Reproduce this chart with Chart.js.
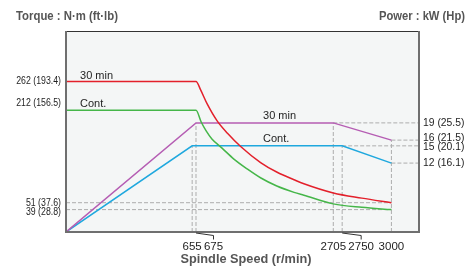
<!DOCTYPE html>
<html>
<head>
<meta charset="utf-8">
<script src="https://cdn.jsdelivr.net/npm/chart.js@4.4.1/dist/chart.umd.min.js"></script>
<style>
  html, body { margin: 0; padding: 0; background: #fff; }
</style>
</head>
<body>
<canvas id="spindleChart" width="474" height="270"></canvas>
<script>
// --- data ---
// speed in r/min, torque in N·m
const speed30T = [0, 675, 745, 840, 990, 1140, 1335, 1630, 1875, 2125, 2270, 2705, 2850, 3000];
const torque30 = [262, 262, 247, 223, 193, 172, 149, 121, 104, 91, 84, 68, 59, 51];
const speedContT = [0, 675, 750, 825, 910, 1060, 1235, 1430, 1635, 1870, 2125, 2270, 2705, 2850, 3000];
const torqueCont = [212, 212, 192, 176, 162, 146, 127, 110, 94, 80, 69, 64, 49, 43, 39];
// power in kW
const speed30P = [0, 675, 2705, 3000];
const power30 = [0, 19, 19, 16];
const speedContP = [0, 655, 2750, 3000];
const powerCont = [0, 15, 15, 12];

const speedTicks = [655, 675, 2705, 2750, 3000];
const torqueTicks = [262, 212, 51, 39];
const torqueTickLabels = ['262 (193.4)', '212 (156.5)', '51 (37.6)', '39 (28.8)'];
const powerTicks = [19, 16, 15, 12];
const powerTickLabels = ['19 (25.5)', '16 (21.5)', '15 (20.1)', '12 (16.1)'];

// the speed axis of the original is drawn with a compressed middle part
const speedBreaks = [[0, 0], [675, 0.3683], [2705, 0.7572], [3140, 1]];

class BrokenScale extends Chart.LinearScale {
  _frac(v) {
    const b = speedBreaks;
    for (let i = 1; i < b.length; i++) {
      if (v <= b[i][0] || i === b.length - 1) {
        const [v0, f0] = b[i - 1], [v1, f1] = b[i];
        return f0 + (v - v0) / (v1 - v0) * (f1 - f0);
      }
    }
  }
  getPixelForValue(v) {
    return this.getPixelForDecimal(this._frac(v));
  }
  getValueForPixel(p) {
    const d = this.getDecimalForPixel(p);
    const b = speedBreaks;
    for (let i = 1; i < b.length; i++) {
      if (d <= b[i][1] || i === b.length - 1) {
        const [v0, f0] = b[i - 1], [v1, f1] = b[i];
        return v0 + (d - f0) / (f1 - f0) * (v1 - v0);
      }
    }
  }
}
BrokenScale.id = 'broken';
BrokenScale.defaults = Chart.LinearScale.defaults;
Chart.register(BrokenScale);

const pts = (xs, ys) => xs.map((x, i) => ({ x: x, y: ys[i] }));

function drawText(ctx, s, x, y, align, sx) {
  ctx.save();
  ctx.translate(x, y);
  ctx.scale(sx, 1);
  ctx.textAlign = align;
  ctx.fillText(s, 0, 0);
  ctx.restore();
}
function fitText(ctx, s, x, y, align, w) {
  const sx = w / ctx.measureText(s).width;
  drawText(ctx, s, x, y, align, sx);
}

const decor = {
  id: 'decor',
  beforeDatasetsDraw(chart) {
    const { ctx, chartArea: a } = chart;
    const sx = chart.scales.x, sy = chart.scales.y, sp = chart.scales.y1;
    ctx.save();
    ctx.fillStyle = '#f4f6f6';
    ctx.fillRect(a.left, a.top, a.right - a.left, a.bottom - a.top);

    ctx.strokeStyle = '#adadad';
    ctx.lineWidth = 1;
    ctx.setLineDash([4, 2]);
    const line = (x1, y1, x2, y2) => {
      ctx.beginPath(); ctx.moveTo(x1, y1); ctx.lineTo(x2, y2); ctx.stroke();
    };
    // verticals up to the power knees
    line(sx.getPixelForValue(speedContP[1]), a.bottom, sx.getPixelForValue(speedContP[1]), sp.getPixelForValue(powerCont[1]));
    line(sx.getPixelForValue(speed30P[1]), a.bottom, sx.getPixelForValue(speed30P[1]), sp.getPixelForValue(power30[1]));
    line(sx.getPixelForValue(speed30P[2]), a.bottom, sx.getPixelForValue(speed30P[2]), sp.getPixelForValue(power30[2]));
    line(sx.getPixelForValue(speedContP[2]), a.bottom, sx.getPixelForValue(speedContP[2]), sp.getPixelForValue(powerCont[2]));
    line(sx.getPixelForValue(3000), a.bottom, sx.getPixelForValue(3000), sp.getPixelForValue(power30[3]));
    // torque end values across
    [51, 39].forEach(v => line(a.left, sy.getPixelForValue(v), sx.getPixelForValue(3000), sy.getPixelForValue(v)));
    // power values to the right edge
    line(sx.getPixelForValue(2705), sp.getPixelForValue(19), a.right, sp.getPixelForValue(19));
    line(sx.getPixelForValue(3000), sp.getPixelForValue(16), a.right, sp.getPixelForValue(16));
    line(sx.getPixelForValue(2750), sp.getPixelForValue(15), a.right, sp.getPixelForValue(15));
    line(sx.getPixelForValue(3000), sp.getPixelForValue(12), a.right, sp.getPixelForValue(12));
    ctx.restore();
  },
  afterDatasetsDraw(chart) {
    const { ctx, chartArea: a } = chart;
    const sx = chart.scales.x, sy = chart.scales.y, sp = chart.scales.y1;
    ctx.save();
    // frame
    ctx.lineWidth = 1;
    ctx.strokeStyle = '#333';
    ctx.beginPath(); ctx.moveTo(a.left, a.top + 0.5); ctx.lineTo(a.right, a.top + 0.5); ctx.stroke();
    ctx.lineWidth = 2;
    ctx.strokeStyle = '#6f6f6f';
    ctx.beginPath();
    ctx.moveTo(a.left, a.top); ctx.lineTo(a.left, a.bottom);
    ctx.lineTo(a.right, a.bottom); ctx.lineTo(a.right, a.top);
    ctx.stroke();

    // leader lines for the shifted speed labels
    ctx.lineWidth = 1;
    ctx.strokeStyle = '#333';
    const leader = (v, dx) => {
      const x = sx.getPixelForValue(v);
      ctx.beginPath();
      ctx.moveTo(x, a.bottom + 1); ctx.lineTo(x + dx, a.bottom + 3.5); ctx.lineTo(x + dx, a.bottom + 7.5);
      ctx.stroke();
    };
    leader(675, 17.5);
    leader(2750, 19);

    ctx.fillStyle = '#1e1e1e';
    ctx.textBaseline = 'alphabetic';
    // speed tick labels
    ctx.font = '11.5px "Liberation Sans", Arial, sans-serif';
    const shift = { 675: 17.5, 2750: 19 };
    speedTicks.forEach(v => {
      drawText(ctx, String(v), sx.getPixelForValue(v) + (shift[v] || 0), a.bottom + 18, 'center', 1);
    });
    // torque tick labels
    ctx.textBaseline = 'middle';
    ctx.font = '10.7px "Liberation Sans", Arial, sans-serif';
    const tOff = [0, -7, 0.5, 2];
    torqueTicks.forEach((v, i) => {
      drawText(ctx, torqueTickLabels[i], a.left - 5, sy.getPixelForValue(v) + tOff[i], 'right', 0.82);
    });
    // power tick labels
    ctx.font = '11.5px "Liberation Sans", Arial, sans-serif';
    const pOff = [0, -2.5, 0.7, -0.5];
    powerTicks.forEach((v, i) => {
      drawText(ctx, powerTickLabels[i], a.right + 4, sp.getPixelForValue(v) + pOff[i], 'left', 0.9);
    });

    // curve names
    ctx.textBaseline = 'alphabetic';
    ctx.font = '11px "Liberation Sans", Arial, sans-serif';
    drawText(ctx, '30 min', sx.getPixelForValue(73), sy.getPixelForValue(262) - 2.5, 'left', 1);
    drawText(ctx, 'Cont.', sx.getPixelForValue(73), sy.getPixelForValue(212) - 3.5, 'left', 1);
    drawText(ctx, '30 min', sx.getPixelForValue(1666), sp.getPixelForValue(19) - 3.5, 'left', 1);
    drawText(ctx, 'Cont.', sx.getPixelForValue(1666), sp.getPixelForValue(15) - 3.7, 'left', 1);

    // axis titles
    ctx.fillStyle = '#555';
    ctx.font = 'bold 13px "Liberation Sans", Arial, sans-serif';
    fitText(ctx, 'Torque : N·m (ft·lb)', 16, 19.5, 'left', 102);
    fitText(ctx, 'Power : kW (Hp)', 465, 19.5, 'right', 86);
    fitText(ctx, 'Spindle Speed (r/min)', 246, 262.5, 'center', 131);
    ctx.restore();
  }
};

new Chart(document.getElementById('spindleChart'), {
  type: 'line',
  data: {
    datasets: [
      { label: 'Torque 30 min', data: pts(speed30T, torque30), borderColor: '#e3202b', yAxisID: 'y', cubicInterpolationMode: 'monotone' },
      { label: 'Torque Cont.', data: pts(speedContT, torqueCont), borderColor: '#45b649', yAxisID: 'y', cubicInterpolationMode: 'monotone' },
      { label: 'Power 30 min', data: pts(speed30P, power30), borderColor: '#b55db3', yAxisID: 'y1' },
      { label: 'Power Cont.', data: pts(speedContP, powerCont), borderColor: '#1fa8de', yAxisID: 'y1' }
    ]
  },
  options: {
    responsive: false,
    animation: false,
    layout: { padding: { left: 66, top: 31, right: 55, bottom: 38 } },
    plugins: { legend: { display: false }, tooltip: { enabled: false } },
    elements: { point: { radius: 0 }, line: { borderWidth: 1.5, fill: false } },
    scales: {
      x: { type: 'broken', min: 0, max: 3140, display: false },
      y: { type: 'linear', min: 0, max: 350, display: false },
      y1: { type: 'linear', min: 0, max: 35, display: false, position: 'right' }
    }
  },
  plugins: [decor]
});
</script>
</body>
</html>
